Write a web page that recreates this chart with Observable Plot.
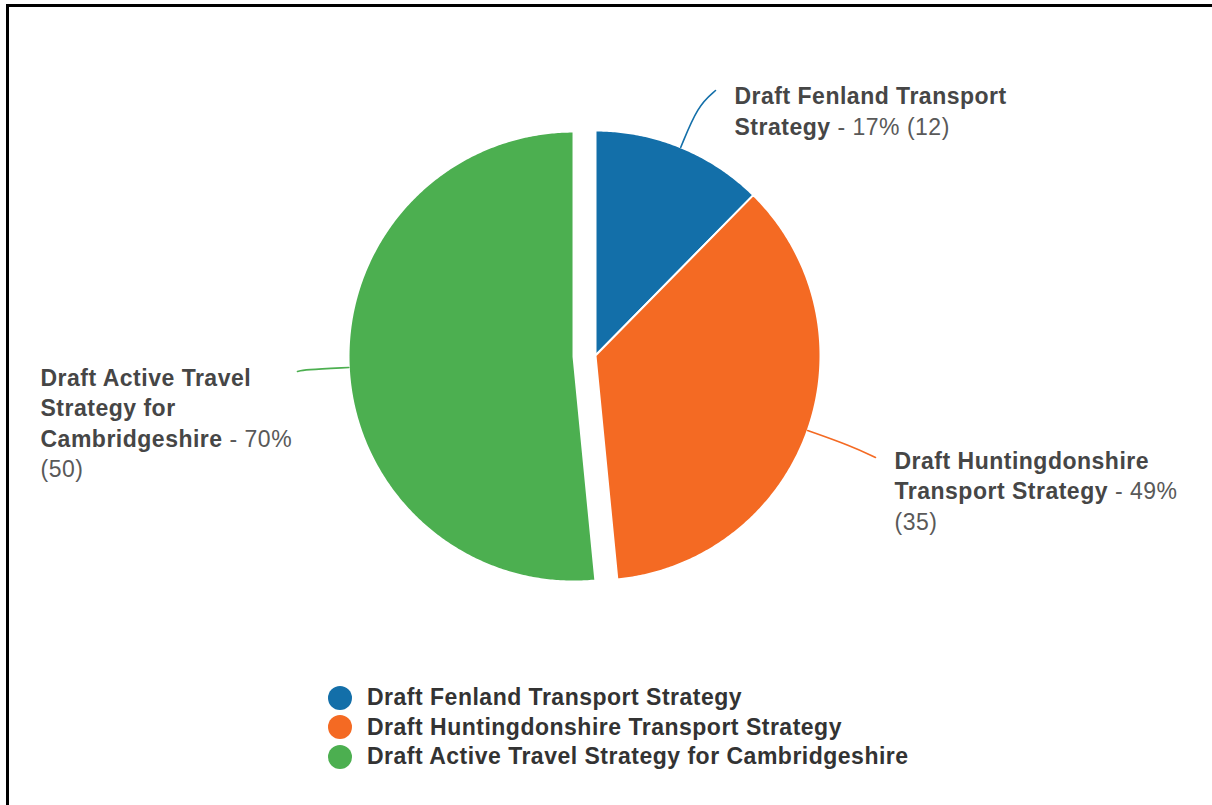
<!DOCTYPE html>
<html>
<head>
<meta charset="utf-8">
<script src="https://cdn.jsdelivr.net/npm/d3@7"></script>
<script src="https://cdn.jsdelivr.net/npm/@observablehq/plot@0.6"></script>
<style>
  html, body { margin: 0; padding: 0; background: #fff; }
  body { width: 1212px; height: 805px; position: relative; overflow: hidden; font-family: "Liberation Sans", Arial, sans-serif; }
  #chart { position: absolute; left: 0; top: 0; }
  #frame { position: absolute; left: 6px; top: 4px; width: 1206px; height: 801px; border-top: 3px solid #000; border-left: 3px solid #000; box-sizing: border-box; pointer-events: none; }
  #legend { position: absolute; left: 328px; top: 683px; }
  .row { display: flex; align-items: center; height: 29.5px; }
  .sw { width: 24px; height: 24px; border-radius: 50%; margin-right: 15px; flex: none; }
  .lt { font-weight: bold; font-size: 23px; letter-spacing: 0.5px; color: #333; white-space: nowrap; line-height: 29.5px; }
</style>
</head>
<body>
<div id="chart"></div>
<div id="legend"></div>
<div id="frame"></div>
<script>
// ---- data ----
const categories = [
  "Draft Fenland Transport Strategy",
  "Draft Huntingdonshire Transport Strategy",
  "Draft Active Travel Strategy for Cambridgeshire"
];
const counts = [12, 35, 50];
const percents = [17, 49, 70];
const colors = ["#136fa9", "#f46a23", "#4caf50"];

// ---- layout ----
const W = 1212, H = 680;
const cx = 595, cy = 355, R = 225;
const explode = [0, 0, 22];
const labelLayout = [
  { end: [715, 90],  tx: 734, ty: 103.5, maxW: 300 },
  { end: [875, 457], tx: 894, ty: 468,   maxW: 305 },
  { end: [297, 371], tx: 40,  ty: 385,   maxW: 272 }
];
const fontSize = 23, letterSp = 0.5, lineH = 30.5;

const pie = d3.pie().sort(null).value(d => d)(counts);

// slice polygons
const slicePts = [];
const leaderPts = [];
pie.forEach((p, i) => {
  const mid = (p.startAngle + p.endAngle) / 2;
  const ox = cx + explode[i] * Math.sin(mid), oy = cy - explode[i] * Math.cos(mid);
  const cat = categories[i];
  slicePts.push({ cat, x: ox, y: oy });
  const n = Math.ceil((p.endAngle - p.startAngle) / (Math.PI / 360));
  for (let k = 0; k <= n; k++) {
    const a = p.startAngle + (p.endAngle - p.startAngle) * k / n;
    slicePts.push({ cat, x: ox + R * Math.sin(a), y: oy - R * Math.cos(a) });
  }
  const L = labelLayout[i];
  leaderPts.push({ cat, x: ox + R * Math.sin(mid), y: oy - R * Math.cos(mid) });
  leaderPts.push({ cat, x: ox + R * 1.2 * Math.sin(mid), y: oy - R * 1.2 * Math.cos(mid) });
  leaderPts.push({ cat, x: L.end[0], y: L.end[1] });
});

// label wrapping (measured)
const ctx = document.createElement("canvas").getContext("2d");
function measure(str, bold) {
  ctx.font = (bold ? "bold " : "") + fontSize + "px 'Liberation Sans', Arial, sans-serif";
  return ctx.measureText(str).width + str.length * letterSp;
}
const lineData = [];
categories.forEach((name, i) => {
  const tokens = name.split(" ").map(w => ({ t: w, b: true }))
    .concat([{ t: "- " + percents[i] + "%", b: false }, { t: "(" + counts[i] + ")", b: false }]);
  const L = labelLayout[i];
  const lines = [];
  let cur = [];
  const width = toks => toks.reduce((s, tk, j) => s + measure((j ? " " : "") + tk.t, tk.b), 0);
  tokens.forEach(tk => {
    if (cur.length && width(cur.concat([tk])) > L.maxW) { lines.push(cur); cur = []; }
    cur.push(tk);
  });
  if (cur.length) lines.push(cur);
  lines.forEach((toks, li) => {
    let bold = "", norm = "";
    toks.forEach((tk, j) => {
      const s = (j ? " " : "") + tk.t;
      if (tk.b) bold += s; else norm += s;
    });
    lineData.push({ cat: name, x: L.tx, y: L.ty + li * lineH, bold, norm });
  });
});

const plot = Plot.plot({
  width: W, height: H,
  margin: 0,
  x: { domain: [0, W], range: [0, W], axis: null },
  y: { domain: [0, H], range: [0, H], axis: null },
  color: { domain: categories, range: colors },
  style: { background: "transparent", fontFamily: "'Liberation Sans', Arial, sans-serif" },
  marks: [
    Plot.line(slicePts, { x: "x", y: "y", z: "cat", fill: "cat", stroke: "white", strokeWidth: 2, curve: "linear-closed" }),
    Plot.line(leaderPts, { x: "x", y: "y", z: "cat", stroke: "cat", strokeWidth: 1.6, curve: "basis" }),
    Plot.text(lineData, { x: "x", y: "y", text: d => d.bold + d.norm, textAnchor: "start", lineAnchor: "bottom", fontSize, fill: "#444" })
  ]
});
document.getElementById("chart").appendChild(plot);

// mixed weight on each label line
const texts = d3.select(plot).selectAll("g[aria-label='text'] text").nodes();
texts.forEach((node, i) => {
  const d = lineData[i];
  const t = d3.select(node);
  t.text(null).style("letter-spacing", letterSp + "px");
  if (d.bold) t.append("tspan").attr("font-weight", "bold").attr("fill", "#464646").text(d.bold);
  if (d.norm) t.append("tspan").attr("font-weight", "normal").attr("fill", "#595959").text(d.norm);
});

// legend
const legend = d3.select("#legend");
categories.forEach((c, i) => {
  const row = legend.append("div").attr("class", "row");
  row.append("span").attr("class", "sw").style("background", colors[i]);
  row.append("span").attr("class", "lt").text(c);
});
</script>
</body>
</html>
